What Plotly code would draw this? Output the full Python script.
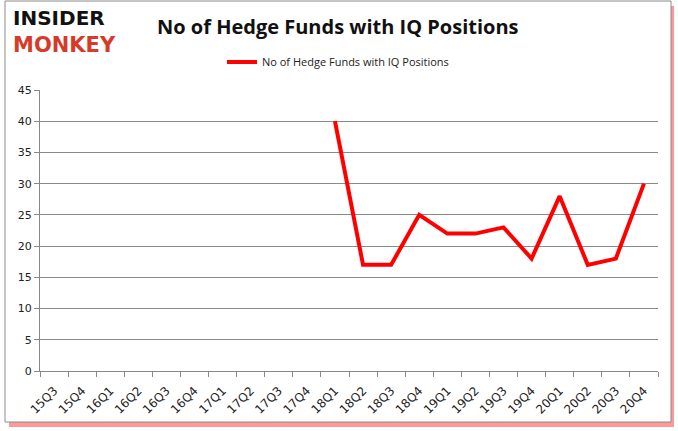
import plotly.graph_objects as go

categories = ["15Q3","15Q4","16Q1","16Q2","16Q3","16Q4","17Q1","17Q2","17Q3","17Q4",
              "18Q1","18Q2","18Q3","18Q4","19Q1","19Q2","19Q3","19Q4","20Q1","20Q2","20Q3","20Q4"]
values = [None]*10 + [40, 17, 17, 25, 22, 22, 23, 18, 28, 17, 18, 30]
series_name = "No of Hedge Funds with IQ Positions"
title_text = "No of Hedge Funds with IQ Positions"

W, H = 678, 431
L, R, T, B = 40, 658, 90, 371

def px(x):
    return (x - L) / (R - L)

def py(y):
    return (B - y) / (B - T)

fig = go.Figure()
fig.add_trace(go.Scatter(x=categories, y=values, mode="lines", name=series_name,
                         line=dict(color="#FF0000", width=4), connectgaps=False,
                         hoverinfo="skip"))

shapes = [
    # red shadow
    dict(type="rect", xref="paper", yref="paper", x0=px(9), x1=px(674), y0=py(427), y1=py(6),
         line=dict(width=0), fillcolor="rgba(255,50,50,0.5)", layer="below"),
    # white frame
    dict(type="rect", xref="paper", yref="paper", x0=px(5), x1=px(671), y0=py(422), y1=py(1),
         line=dict(color="#8a8a8a", width=1), fillcolor="white", layer="below"),
]

fig.update_layout(
    width=W, height=H,
    margin=dict(l=L, r=W - R, t=T, b=H - B, autoexpand=False),
    paper_bgcolor="white", plot_bgcolor="rgba(0,0,0,0)",
    showlegend=True,
    legend=dict(orientation="h", x=px(222), y=py(62), xanchor="left", yanchor="middle",
                font=dict(family="Open Sans, DejaVu Sans", size=11, color="#222"),
                bgcolor="rgba(0,0,0,0)"),
    shapes=shapes,
    annotations=[
        dict(text="<b>" + title_text + "</b>", xref="paper", yref="paper", x=px(338), y=py(27),
             xanchor="center", yanchor="middle", showarrow=False,
             font=dict(family="Open Sans, DejaVu Sans", size=20, color="#111")),
        dict(text="<b>INSIDER</b>", xref="paper", yref="paper", x=px(11), y=py(18),
             xanchor="left", yanchor="middle", showarrow=False,
             font=dict(family="DejaVu Sans", size=20, color="#111")),
        dict(text="<b>MONKEY</b>", xref="paper", yref="paper", x=px(11), y=py(45),
             xanchor="left", yanchor="middle", showarrow=False,
             font=dict(family="DejaVu Sans", size=21, color="#D63A2A")),
    ],
)

fig.update_xaxes(type="category", categoryorder="array", categoryarray=categories,
                 tickangle=-45, ticks="outside", ticklen=5, tickcolor="#888",
                 tickson="boundaries", showline=True, linecolor="#888", linewidth=1,
                 showgrid=False, automargin=False, ticklabelstandoff=7,
                 tickfont=dict(family="DejaVu Sans", size=12, color="#222"),
                 range=[-0.5, len(categories) - 0.5])
fig.update_yaxes(range=[0, 45], dtick=5, ticks="outside", ticklen=5, tickcolor="#888",
                 showline=True, linecolor="#888", linewidth=1, automargin=False,
                 showgrid=True, gridcolor="#8a8a8a", gridwidth=1, zeroline=False,
                 tickfont=dict(family="DejaVu Sans", size=11, color="#222"))

fig.write_html("out.html", config={"displayModeBar": False},
               post_script="document.body.style.margin='0';document.body.style.overflow='hidden';")
